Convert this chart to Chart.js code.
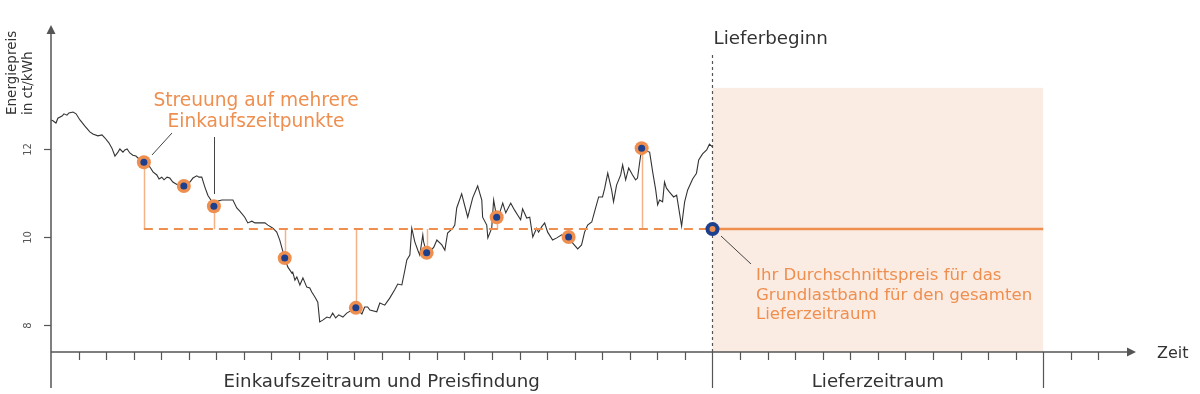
<!DOCTYPE html>
<html><head><meta charset="utf-8">
<script src="https://cdn.jsdelivr.net/npm/chart.js@4/dist/chart.umd.min.js"></script>
<style>html,body{margin:0;padding:0;background:#fff}#wrap{width:1200px;height:394px}</style>
</head><body><div id="wrap"><canvas id="c" width="1200" height="394"></canvas></div>
<script>
// ---- data (time in tick units, price in ct/kWh) ----
const timeValues=[0,0.07,0.18,0.25,0.40,0.47,0.58,0.65,0.80,0.91,1.05,1.23,1.41,1.52,1.70,1.85,1.96,2.10,2.21,2.32,2.43,2.50,2.61,2.68,2.76,2.86,2.97,3.08,3.23,3.37,3.59,3.70,3.84,3.92,4.02,4.10,4.21,4.31,4.42,4.60,4.82,5.04,5.15,5.29,5.37,5.47,5.58,5.69,5.84,5.91,6.06,6.20,6.60,6.74,6.85,7.03,7.14,7.29,7.40,7.58,7.76,7.87,8.05,8.19,8.30,8.48,8.59,8.74,8.77,8.85,8.92,9.03,9.14,9.28,9.39,9.46,9.57,9.68,9.75,9.86,10.01,10.12,10.22,10.33,10.44,10.59,10.73,11.06,11.28,11.38,11.49,11.57,11.82,11.93,12.11,12.29,12.47,12.58,12.73,12.84,12.91,13.02,13.09,13.20,13.31,13.38,13.49,13.52,13.63,13.74,13.89,14.00,14.18,14.29,14.39,14.58,14.65,14.72,14.90,15.12,15.30,15.48,15.63,15.66,15.81,15.85,15.99,16.06,16.17,16.28,16.39,16.50,16.68,16.82,16.93,17.04,17.11,17.26,17.37,17.48,17.62,17.69,17.80,17.91,18.02,18.20,18.35,18.53,18.78,18.93,19.11,19.25,19.36,19.47,19.62,19.72,19.87,20.01,20.09,20.20,20.34,20.41,20.52,20.67,20.74,20.85,20.96,21.10,21.21,21.28,21.43,21.61,21.72,21.83,21.94,22.01,22.08,22.19,22.26,22.33,22.44,22.59,22.70,22.88,22.99,23.10,23.28,23.42,23.50,23.64,23.79,23.89,24.00];
const priceValues=[12.66,12.64,12.59,12.70,12.75,12.80,12.77,12.82,12.84,12.80,12.66,12.52,12.39,12.34,12.30,12.32,12.25,12.14,12.02,11.84,11.93,12.00,11.93,11.98,12.00,11.91,11.86,11.84,11.75,11.70,11.59,11.48,11.41,11.32,11.36,11.30,11.36,11.34,11.25,11.18,11.16,11.25,11.34,11.39,11.36,11.36,11.14,10.95,10.80,10.70,10.82,10.84,10.84,10.66,10.59,10.45,10.32,10.36,10.32,10.32,10.32,10.27,10.20,10.11,9.93,9.52,9.32,9.18,9.20,9.02,9.09,8.91,9.07,8.86,8.84,8.75,8.64,8.52,8.07,8.11,8.18,8.16,8.27,8.16,8.23,8.18,8.27,8.39,8.25,8.41,8.41,8.34,8.30,8.50,8.45,8.61,8.80,8.93,8.91,9.25,9.48,9.59,10.20,9.89,9.70,9.59,10.05,9.89,9.64,9.66,9.77,9.93,9.82,9.70,10.09,10.20,10.27,10.66,10.98,10.45,10.89,11.16,10.84,10.45,10.27,9.98,10.20,10.84,10.45,10.55,10.77,10.55,10.77,10.61,10.50,10.39,10.64,10.43,10.45,10.00,10.20,10.11,10.23,10.32,10.11,9.93,9.98,10.05,10.00,9.86,9.73,9.82,10.11,10.27,10.34,10.57,10.91,10.91,11.11,11.45,11.07,10.80,11.18,11.41,11.64,11.30,11.57,11.41,11.30,11.34,12.02,11.95,11.93,11.48,11.07,10.73,10.84,10.80,11.25,11.11,11.02,10.91,10.95,10.25,10.80,11.07,11.32,11.45,11.75,11.89,11.98,12.11,12.05];
const purchaseTimes=[3.37,4.82,5.91,8.48,11.06,13.63,16.17,18.78,21.43];
const purchasePrices=[11.70,11.16,10.70,9.52,8.39,9.64,10.45,10.00,12.02];
const purchaseStems=[true,false,true,true,true,true,true,false,true];
const averagePrice=10.18;
const deliveryStart=24;
const deliveryEnd=36;
const deliveryShadeTop=13.39;
const timeTickCount=38;
const majorTimeTicks=[0,24,36];
const priceTicks=[8,10,12];
const yTitle=["Energiepreis","in ct/kWh"];
const xTitle="Zeit";
const startLabel="Lieferbeginn";
const periodLabels=["Einkaufszeitraum und Preisfindung","Lieferzeitraum"];
const spreadNote=["Streuung auf mehrere","Einkaufszeitpunkte"];
const avgNote=["Ihr Durchschnittspreis für das","Grundlastband für den gesamten","Lieferzeitraum"];

// ---- styles ----
const ORANGE="#EE8F50", LIGHTOR="#F4B287", BLUE="#1C3F8E", DARK="#333333", AXIS="#555555", SHADE="#FBECE3";
const FONT="'DejaVu Sans', Verdana, sans-serif";

const pts=(xs,ys)=>xs.map((x,i)=>({x:x,y:ys[i]}));

const overlay={
  id:'overlay',
  beforeDatasetsDraw(chart){
    const c=chart.ctx, xs=chart.scales.x, ys=chart.scales.y, a=chart.chartArea;
    c.save();
    const x0=xs.getPixelForValue(deliveryStart), x1=xs.getPixelForValue(deliveryEnd);
    const yt=ys.getPixelForValue(deliveryShadeTop);
    c.fillStyle=SHADE; c.fillRect(x0,yt,x1-x0,a.bottom-yt);
    c.strokeStyle="#555"; c.lineWidth=1.2; c.setLineDash([3,3]);
    c.beginPath(); c.moveTo(Math.round(x0)+0.5,55); c.lineTo(Math.round(x0)+0.5,a.bottom); c.stroke();
    c.setLineDash([]);
    c.strokeStyle=LIGHTOR; c.lineWidth=1.5;
    const ya=ys.getPixelForValue(averagePrice);
    purchaseTimes.forEach((t,i)=>{
      if(!purchaseStems[i]) return;
      const px=Math.round(xs.getPixelForValue(t))+0.5;
      c.beginPath(); c.moveTo(px,ys.getPixelForValue(purchasePrices[i])); c.lineTo(px,ya); c.stroke();
    });
    c.restore();
  },
  afterDatasetsDraw(chart){
    const c=chart.ctx, xs=chart.scales.x, ys=chart.scales.y, a=chart.chartArea;
    c.save();
    const ax=a.left, ay=a.bottom;
    c.strokeStyle=AXIS; c.fillStyle=AXIS; c.lineWidth=1.5;
    c.beginPath(); c.moveTo(ax,ay+36); c.lineTo(ax,a.top+4); c.stroke();
    c.beginPath(); c.moveTo(ax,a.top-5); c.lineTo(ax-4.5,a.top+4); c.lineTo(ax+4.5,a.top+4); c.closePath(); c.fill();
    c.beginPath(); c.moveTo(ax,ay); c.lineTo(a.right-6,ay); c.stroke();
    c.beginPath(); c.moveTo(a.right+1,ay); c.lineTo(a.right-8,ay-4.5); c.lineTo(a.right-8,ay+4.5); c.closePath(); c.fill();
    c.lineWidth=1.2;
    for(let i=1;i<=timeTickCount;i++){
      const px=Math.round(xs.getPixelForValue(i))+0.5;
      const major=majorTimeTicks.includes(i);
      c.beginPath(); c.moveTo(px,ay); c.lineTo(px,ay+(major?36:8)); c.stroke();
    }
    c.font="10px "+FONT; c.fillStyle="#555"; c.textAlign="center"; c.textBaseline="middle";
    priceTicks.forEach(v=>{
      const py=Math.round(ys.getPixelForValue(v))+0.5;
      c.beginPath(); c.moveTo(ax-7,py); c.lineTo(ax,py); c.stroke();
      c.save(); c.translate(28,py); c.rotate(-Math.PI/2); c.fillText(String(v),0,0); c.restore();
    });
    c.fillStyle=DARK; c.font="13.5px "+FONT; c.textAlign="left"; c.textBaseline="middle";
    c.save(); c.translate(12,115); c.rotate(-Math.PI/2); c.fillText(yTitle[0],0,0); c.restore();
    c.save(); c.translate(28,115); c.rotate(-Math.PI/2); c.fillText(yTitle[1],0,0); c.restore();
    c.font="16px "+FONT; c.textAlign="left"; c.fillText(xTitle,1157,354);
    c.font="18.3px "+FONT; c.fillText(startLabel,xs.getPixelForValue(deliveryStart)+1,39);
    c.font="18.2px "+FONT; c.textAlign="center";
    c.fillText(periodLabels[0],(xs.getPixelForValue(0)+xs.getPixelForValue(deliveryStart))/2,382);
    c.fillText(periodLabels[1],(xs.getPixelForValue(deliveryStart)+xs.getPixelForValue(deliveryEnd))/2,382);
    c.fillStyle=ORANGE; c.font="18.6px "+FONT; c.textAlign="center";
    c.fillText(spreadNote[0],256,101); c.fillText(spreadNote[1],256,122);
    c.strokeStyle="#444"; c.lineWidth=1;
    c.beginPath(); c.moveTo(172,133); c.lineTo(152,155); c.stroke();
    c.beginPath(); c.moveTo(214.5,137); c.lineTo(214.5,194); c.stroke();
    c.fillStyle=ORANGE; c.font="16.6px "+FONT; c.textAlign="left";
    avgNote.forEach((s,i)=>c.fillText(s,756,276+i*19.5));
    c.beginPath(); c.moveTo(721,236); c.lineTo(751,264); c.stroke();
    c.restore();
  }
};

new Chart(document.getElementById('c'),{
  type:'scatter',
  data:{datasets:[
    {data:pts([deliveryStart],[averagePrice]),pointRadius:3,pointBackgroundColor:ORANGE,pointBorderWidth:0,order:0},
    {data:pts([deliveryStart],[averagePrice]),pointRadius:7,pointBackgroundColor:BLUE,pointBorderWidth:0,order:1},
    {data:pts(purchaseTimes,purchasePrices),pointRadius:3.5,pointBackgroundColor:BLUE,pointBorderWidth:0,order:2},
    {data:pts(purchaseTimes,purchasePrices),pointRadius:7,pointBackgroundColor:ORANGE,pointBorderWidth:0,order:3},
    {data:pts([deliveryStart,deliveryEnd],[averagePrice,averagePrice]),showLine:true,borderColor:ORANGE,borderWidth:2.5,pointRadius:0,order:4},
    {data:pts([purchaseTimes[0],deliveryStart],[averagePrice,averagePrice]),showLine:true,borderColor:ORANGE,borderWidth:2,borderDash:[9,6],pointRadius:0,order:5},
    {data:pts(timeValues,priceValues),showLine:true,borderColor:DARK,borderWidth:1.1,pointRadius:0,tension:0,order:6}
  ]},
  options:{
    responsive:false,animation:false,devicePixelRatio:1,
    layout:{padding:{left:51,right:65,top:30,bottom:42}},
    plugins:{legend:{display:false},tooltip:{enabled:false}},
    scales:{
      x:{type:'linear',min:0,max:39.33,display:false},
      y:{type:'linear',min:7.386,max:14.705,display:false}
    }
  },
  plugins:[overlay]
});
</script></body></html>
